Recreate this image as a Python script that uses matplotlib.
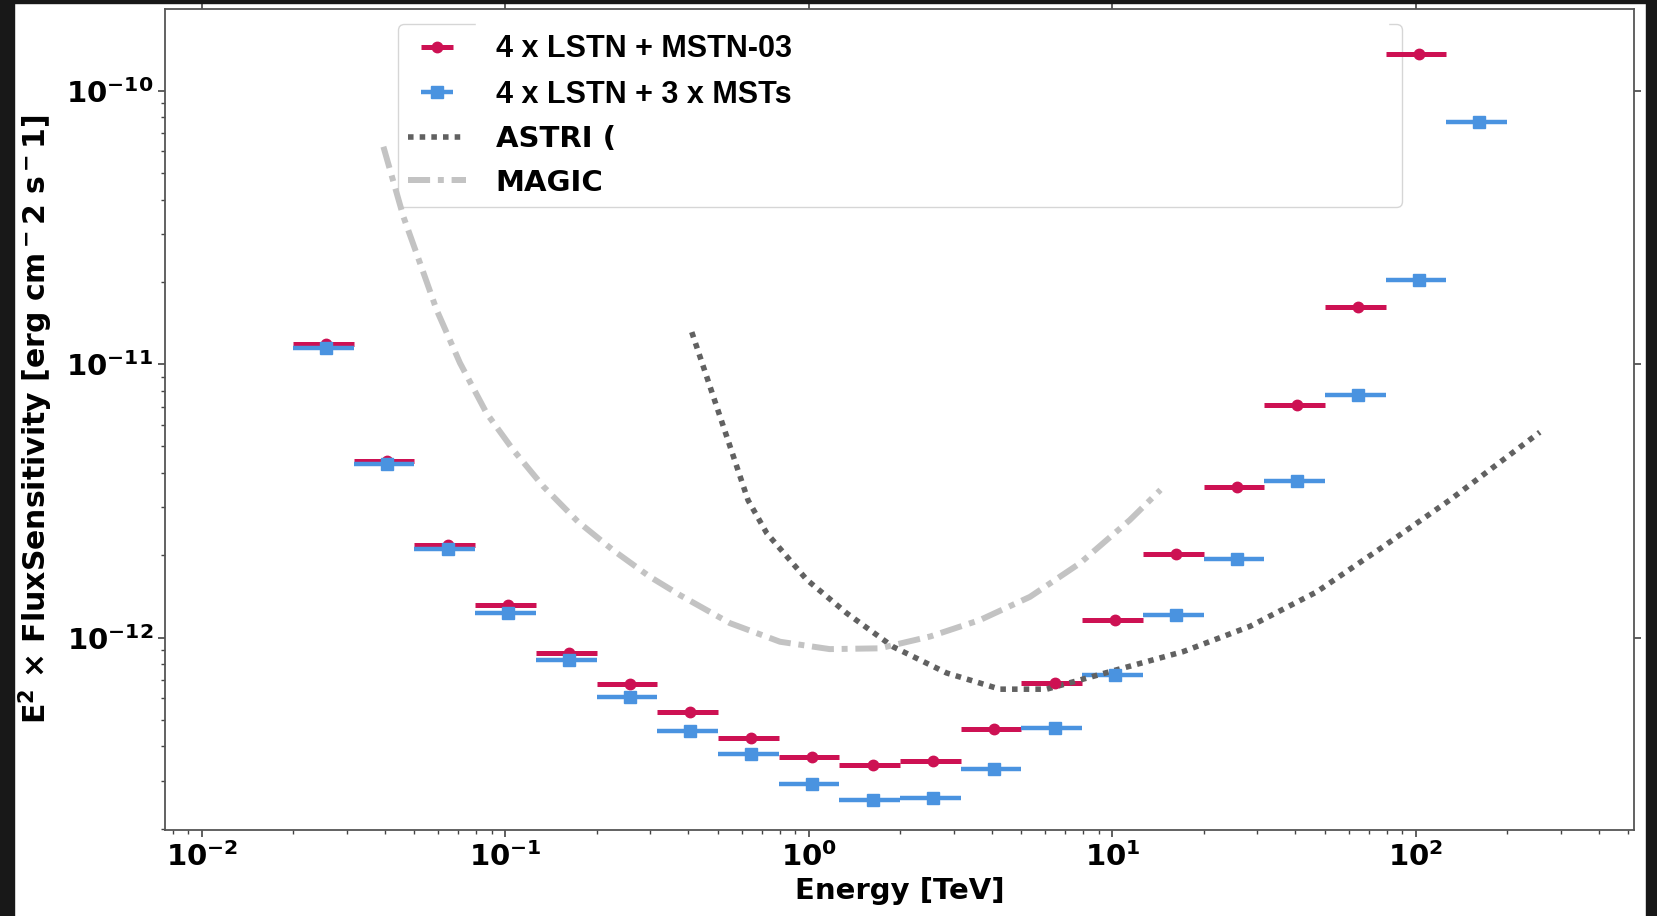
import matplotlib
matplotlib.use('Agg')
import matplotlib.pyplot as plt
from matplotlib import font_manager
from matplotlib.patches import Rectangle
from matplotlib.legend_handler import HandlerErrorbar

plt.rcParams['font.family'] = ['DejaVu Sans']
plt.rcParams['font.weight'] = 'bold'
plt.rcParams['axes.labelweight'] = 'bold'
plt.rcParams['mathtext.default'] = 'regular'

# energy bins (TeV)
energy = [0.0257, 0.0407, 0.0646, 0.102, 0.162, 0.257, 0.407, 0.646, 1.02, 1.62,
          2.57, 4.07, 6.46, 10.2, 16.2, 25.7, 40.7, 64.6, 102, 162]
e_lo = [0.02, 0.0316, 0.05, 0.0794, 0.126, 0.2, 0.316, 0.5, 0.794, 1.26,
        2.0, 3.16, 5.0, 7.94, 12.6, 20.0, 31.6, 50.0, 79.4, 126]
e_hi = [0.0316, 0.05, 0.0794, 0.126, 0.2, 0.316, 0.5, 0.794, 1.26, 2.0,
        3.16, 5.0, 7.94, 12.6, 20.0, 31.6, 50.0, 79.4, 126, 200]

# 4 x LSTN + MSTN-03 (no point in last bin)
sens_mstn = [1.19e-11, 4.44e-12, 2.18e-12, 1.32e-12, 8.81e-13, 6.78e-13, 5.33e-13, 4.31e-13,
             3.67e-13, 3.43e-13, 3.54e-13, 4.63e-13, 6.84e-13, 1.16e-12, 2.02e-12, 3.56e-12,
             7.10e-12, 1.62e-11, 1.36e-10]
# 4 x LSTN + 3 x MSTs
sens_msts = [1.15e-11, 4.33e-12, 2.11e-12, 1.23e-12, 8.28e-13, 6.07e-13, 4.56e-13, 3.75e-13,
             2.92e-13, 2.55e-13, 2.59e-13, 3.31e-13, 4.69e-13, 7.29e-13, 1.21e-12, 1.94e-12,
             3.74e-12, 7.69e-12, 2.03e-11, 7.71e-11]

astri_e = [0.411, 0.630, 0.726, 0.983, 1.33, 1.89, 2.84, 4.26, 6.07, 7.81, 10.3,
           17.1, 28.4, 47.1, 77.9, 129, 256]
astri_s = [1.31e-11, 3.18e-12, 2.41e-12, 1.63e-12, 1.23e-12, 9.27e-13, 7.43e-13, 6.48e-13,
           6.48e-13, 7.0e-13, 7.62e-13, 8.89e-13, 1.10e-12, 1.47e-12, 2.15e-12, 3.18e-12, 5.64e-12]

magic_e = [0.0396, 0.0461, 0.0523, 0.0593, 0.0708, 0.0867, 0.106, 0.133, 0.173, 0.226,
           0.299, 0.376, 0.549, 0.803, 1.17, 1.71, 2.51, 3.66, 5.35, 7.81, 11.4, 14.4]
magic_s = [6.24e-11, 3.46e-11, 2.34e-11, 1.58e-11, 1.01e-11, 6.61e-12, 4.86e-12, 3.58e-12,
           2.66e-12, 2.09e-12, 1.67e-12, 1.43e-12, 1.13e-12, 9.66e-13, 9.08e-13, 9.14e-13,
           1.01e-12, 1.16e-12, 1.41e-12, 1.87e-12, 2.69e-12, 3.47e-12]

red = '#cd1153'
blue = '#4a93e0'

n1 = len(sens_mstn)
xerr1 = [[energy[i] - e_lo[i] for i in range(n1)], [e_hi[i] - energy[i] for i in range(n1)]]
xerr2 = [[energy[i] - e_lo[i] for i in range(len(energy))],
         [e_hi[i] - energy[i] for i in range(len(energy))]]

fig = plt.figure(figsize=(16.58, 9.16), dpi=100)
ax = fig.add_axes([0.0995, 0.0939, 0.886, 0.8963])

ax.errorbar(energy[:n1], sens_mstn, xerr=xerr1, fmt='o', color=red, ms=7.5,
            elinewidth=3.6, capsize=0, label='4 x LSTN + MSTN-03')
ax.errorbar(energy, sens_msts, xerr=xerr2, fmt='s', color=blue, ms=8.5,
            elinewidth=3.2, capsize=0, label='4 x LSTN + 3 x MSTs')
ax.plot(astri_e, astri_s, color='#616161', lw=4, ls=(0, (1, 1.1)), label='ASTRI (')
ax.plot(magic_e, magic_s, color='#c3c3c3', lw=4.3, ls=(0, (3.7, 1.3, 1, 1.3)), label='MAGIC')

ax.set_xscale('log')
ax.set_yscale('log')
ax.set_xlim(0.00755, 523)
ax.set_ylim(1.98e-13, 1.99e-10)

ax.set_xlabel('Energy [TeV]', fontsize=21)
ax.set_ylabel(r'E$^2$ $\times$ FluxSensitivity [erg cm$^-$2 s$^-$1]', fontsize=21.5, labelpad=7.5)

ax.tick_params(axis='both', which='major', labelsize=21, length=5, width=1.2, color='#444444')
ax.tick_params(axis='both', which='minor', length=3, width=1, color='#444444')
ax.tick_params(axis='x', which='major', top=True, labeltop=False)
ax.tick_params(axis='y', which='major', right=True, labelright=False)
for s in ax.spines.values():
    s.set_color('#555555')
    s.set_linewidth(1.3)

handles, labels = ax.get_legend_handles_labels()
order = [labels.index(l) for l in ['4 x LSTN + MSTN-03', '4 x LSTN + 3 x MSTs', 'ASTRI (', 'MAGIC']]
leg = ax.legend([handles[i] for i in order], [labels[i] for i in order],
                loc='upper left', bbox_to_anchor=(0.1586, 0.7576, 0.6835, 0.2241),
                mode='expand', borderaxespad=0, fontsize=21, labelspacing=0.53,
                borderpad=0.35, handlelength=2.0, handletextpad=1.0,
                handler_map={type(ax.containers[0]): HandlerErrorbar(xerr_size=0.55)})
leg.set_zorder(1.5)

# first two labels were retyped in another font
names = set(f.name for f in font_manager.fontManager.ttflist)
alt = 'Liberation Sans' if 'Liberation Sans' in names else 'DejaVu Sans'
for t in leg.get_texts()[:2]:
    t.set_fontfamily([alt, 'DejaVu Sans'])
    t.set_fontsize(22)

# screenshot borders
W, H = 1658.0, 916.0
fig.add_artist(Rectangle((0, 0), 14 / W, 1, transform=fig.transFigure, color='#181818', zorder=10))
fig.add_artist(Rectangle((1646 / W, 0), 1, 1, transform=fig.transFigure, color='#181818', zorder=10))
fig.add_artist(Rectangle((0, 1 - 3 / H), 1, 3 / H, transform=fig.transFigure, color='#181818', zorder=10))
# pasted-over patch on the legend frame
fig.add_artist(Rectangle((476 / W, 1 - 30 / H), (1388 - 476) / W, 10 / H,
                         transform=fig.transFigure, color='white', zorder=9))

fig.savefig('out.png', dpi=100)
